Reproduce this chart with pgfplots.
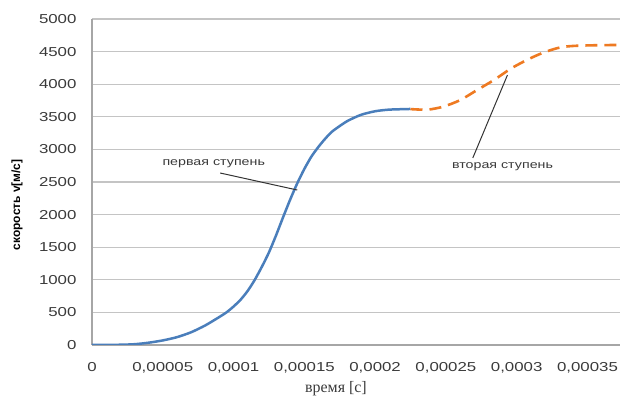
\documentclass[border=0pt]{standalone}
\usepackage{fontspec}
\setmainfont{Liberation Sans}
\newfontfamily\tickfont[FakeStretch=1.3]{Liberation Sans}
\newfontfamily\serifru{Liberation Serif}
\usepackage{pgfplots}
\pgfplotsset{compat=1.18}
\usetikzlibrary{calc}

\definecolor{stageone}{HTML}{4A7EBB}
\definecolor{stagetwo}{HTML}{EE7A22}
\definecolor{gridc}{HTML}{C4C4C4}
\definecolor{axisc}{HTML}{A6A6A6}
\definecolor{tickc}{HTML}{3A3A3A}

\begin{document}
\begin{tikzpicture}
\begin{axis}[
  name=ax,
  scale only axis,
  width=528bp, height=326bp,
  xmin=0, xmax=0.000373,
  ymin=0, ymax=5000,
  axis lines*=left,
  axis line style={draw=axisc, line width=1.1bp, -},
  xtick={0,0.00005,0.0001,0.00015,0.0002,0.00025,0.0003,0.00035},
  xticklabels={0,{0,00005},{0,0001},{0,00015},{0,0002},{0,00025},{0,0003},{0,00035}},
  ytick={0,500,1000,1500,2000,2500,3000,3500,4000,4500,5000},
  yticklabels={0,500,1000,1500,2000,2500,3000,3500,4000,4500,5000},
  scaled x ticks=false,
  major tick length=0pt,
  ymajorgrids,
  grid style={draw=gridc, line width=1.1bp},
  tick label style={font=\tickfont\fontsize{13}{15}\selectfont, text=tickc},
  yticklabel style={xshift=-12bp},
  xticklabel style={yshift=-14bp},
  xlabel={\serifru\fontsize{16}{18}\selectfont время [с]},
  xlabel style={at={(axis description cs:0.462,0)}, anchor=center, yshift=-44bp, text=tickc},
  ylabel={\bfseries\fontsize{12}{14}\selectfont скорость v[м/с]},
  ylabel style={at={(axis description cs:-0.142,0.43)}, anchor=center, text=black},
  clip=true,
]
% первая ступень
\addplot[color=stageone, line width=2.5bp, smooth, tension=0.4] coordinates {
  (0,0) (0.00002,4) (0.00003,12) (0.00004,35) (0.00005,70) (0.00006,120)
  (0.00007,195) (0.00008,300) (0.00009,430) (0.000095,500) (0.0001,590)
  (0.000105,695) (0.00011,830) (0.000115,1000) (0.00012,1200) (0.000125,1420)
  (0.00013,1680) (0.000135,1960) (0.00014,2230) (0.000145,2480) (0.00015,2700)
  (0.000155,2890) (0.00016,3040) (0.000165,3170) (0.00017,3280) (0.00018,3430)
  (0.00019,3530) (0.0002,3585) (0.00021,3610) (0.000225,3620)
};
% вторая ступень
\addplot[color=stagetwo, line width=2.6bp, dash pattern=on 12bp off 7bp, smooth, tension=0.5] coordinates {
  (0.000225,3618) (0.000237,3610) (0.000248,3655) (0.00026,3755) (0.000272,3910)
  (0.000284,4065) (0.000296,4240) (0.000308,4380) (0.000319,4485) (0.000331,4565)
  (0.000343,4590) (0.000364,4600) (0.000373,4600)
};
\draw[black!80, line width=1bp] (axis cs:0.0000905,2638) -- (axis cs:0.000145,2377);
\draw[black!80, line width=1bp] (axis cs:0.000269,2868) -- (axis cs:0.0002935,4141);
\node[font=\tickfont\fontsize{11}{13}\selectfont, text=tickc] at (axis cs:0.000086,2780) {первая ступень};
\node[font=\tickfont\fontsize{11}{13}\selectfont, text=tickc] at (axis cs:0.00029,2740) {вторая ступень};
\end{axis}
\pgfresetboundingbox
\path ($(ax.south west)+(-92bp,-57bp)$) rectangle ($(ax.north east)+(0bp,19bp)$);
\end{tikzpicture}
\end{document}
